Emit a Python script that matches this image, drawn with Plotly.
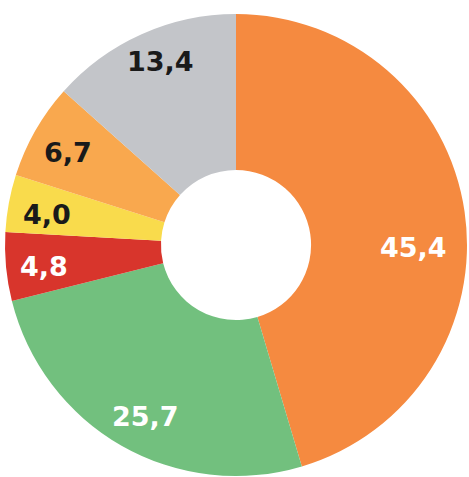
import math
import plotly.graph_objects as go

# Shares (percent), clockwise from 12 o'clock
segments = ["A", "B", "C", "D", "E", "F"]
values = [45.4, 25.7, 4.8, 4.0, 6.7, 13.4]

colors = ["#F58A40", "#72C07E", "#D8352C", "#F9DB4C", "#F9A84E", "#C3C5C9"]
label_colors = ["#FFFFFF", "#FFFFFF", "#FFFFFF", "#1A1A1A", "#1A1A1A", "#1A1A1A"]
# radial position of each value label (fraction of outer radius) and angular nudge (deg)
label_radius = [0.77, 0.84, 0.835, 0.83, 0.83, 0.86]
label_nudge = [9.0, -2.0, -1.0, -1.4, -1.0, 1.7]

W, H = 469, 477
cx, cy, R = 236, 245, 231
hole = 0.325

fig = go.Figure(
    go.Pie(
        labels=segments,
        values=values,
        sort=False,
        direction="clockwise",
        rotation=0,
        hole=hole,
        marker=dict(colors=colors, line=dict(width=0)),
        textinfo="none",
        hoverinfo="label+value",
        domain=dict(x=[(cx - R) / W, (cx + R) / W], y=[1 - (cy + R) / H, 1 - (cy - R) / H]),
    )
)

total = sum(values)
cum = 0.0
annotations = []
for v, c, rf, nd in zip(values, label_colors, label_radius, label_nudge):
    mid = (cum + v / 2) / total * 360 + nd
    cum += v
    th = math.radians(mid)
    px = cx + rf * R * math.sin(th)
    py = cy - rf * R * math.cos(th)
    annotations.append(
        dict(
            x=px / W,
            y=1 - py / H,
            xref="paper",
            yref="paper",
            text=f"{v:.1f}".replace(".", ","),
            showarrow=False,
            font=dict(family="DejaVu Sans", size=27, color=c, weight="bold"),
            xanchor="center",
            yanchor="middle",
        )
    )

fig.update_layout(
    width=W,
    height=H,
    margin=dict(l=0, r=0, t=0, b=0),
    paper_bgcolor="white",
    plot_bgcolor="white",
    showlegend=False,
    annotations=annotations,
)

fig.write_html("out.html")
